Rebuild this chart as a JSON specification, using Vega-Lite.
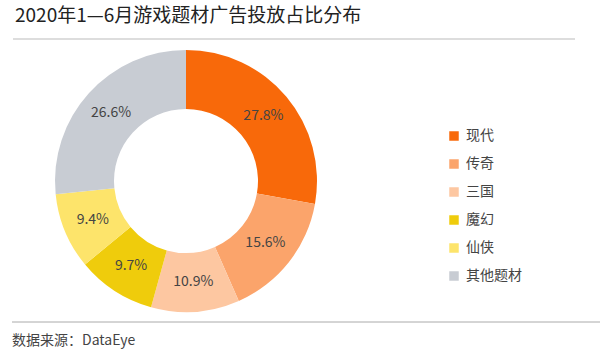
{
  "$schema": "https://vega.github.io/schema/vega-lite/v6.json",
  "autosize": {"type": "none"},
  "width": 262,
  "height": 262,
  "padding": {"left": 55, "top": 50, "right": 283, "bottom": 44},
  "background": "white",
  "config": {"view": {"stroke": null}, "font": "Noto Sans CJK SC"},
  "title": {
    "text": "2020年1—6月游戏题材广告投放占比分布",
    "anchor": "start",
    "frame": "group",
    "dx": -40,
    "offset": 23,
    "dy": 25,
    "baseline": "alphabetic",
    "fontSize": 19,
    "fontWeight": "normal",
    "color": "#222222",
    "font": "Noto Sans CJK SC"
  },
  "data": {
    "values": [
      {"题材": "现代", "占比": 0.278, "rank": 1},
      {"题材": "传奇", "占比": 0.156, "rank": 2},
      {"题材": "三国", "占比": 0.109, "rank": 3},
      {"题材": "魔幻", "占比": 0.097, "rank": 4},
      {"题材": "仙侠", "占比": 0.094, "rank": 5},
      {"题材": "其他题材", "占比": 0.266, "rank": 6}
    ]
  },
  "layer": [
    {
      "mark": {"type": "arc", "innerRadius": 72, "outerRadius": 131},
      "encoding": {
        "theta": {"field": "占比", "type": "quantitative", "stack": true},
        "order": {"field": "rank", "type": "quantitative"},
        "color": {
          "field": "题材",
          "type": "nominal",
          "sort": ["现代", "传奇", "三国", "魔幻", "仙侠", "其他题材"],
          "scale": {
            "domain": ["现代", "传奇", "三国", "魔幻", "仙侠", "其他题材"],
            "range": ["#F8690A", "#FBA46B", "#FDC7A1", "#EFCC0C", "#FDE46B", "#C8CCD3"]
          },
          "legend": {
            "title": null,
            "orient": "none",
            "legendX": 392,
            "legendY": 79,
            "symbolType": "square",
            "symbolSize": 90,
            "symbolStrokeWidth": 0,
            "labelFont": "Noto Sans CJK SC",
            "labelFontSize": 14,
            "labelColor": "#444444",
            "labelOffset": 5,
            "rowPadding": 14
          }
        }
      }
    },
    {
      "mark": {"type": "text", "radius": 101, "fontSize": 14, "color": "#444444", "font": "Noto Sans CJK SC"},
      "encoding": {
        "theta": {"field": "占比", "type": "quantitative", "stack": true},
        "order": {"field": "rank", "type": "quantitative"},
        "text": {"field": "占比", "type": "quantitative", "format": ".1%"}
      }
    },
    {
      "data": {"values": [{"line": "title"}]},
      "mark": {"type": "rule", "color": "#BBBBBB", "strokeWidth": 1},
      "encoding": {"x": {"value": -42}, "x2": {"value": 520}, "y": {"value": -11}}
    },
    {
      "data": {"values": [{"line": "footer"}]},
      "mark": {"type": "rule", "color": "#AAAAAA", "strokeWidth": 1},
      "encoding": {"x": {"value": -43}, "x2": {"value": 545}, "y": {"value": 272}}
    },
    {
      "data": {"values": [{"source": "数据来源：DataEye"}]},
      "mark": {"type": "text", "align": "left", "baseline": "alphabetic", "fontSize": 14, "color": "#444444", "font": "Noto Sans CJK SC"},
      "encoding": {"text": {"field": "source"}, "x": {"value": -43}, "y": {"value": 295}}
    }
  ]
}
